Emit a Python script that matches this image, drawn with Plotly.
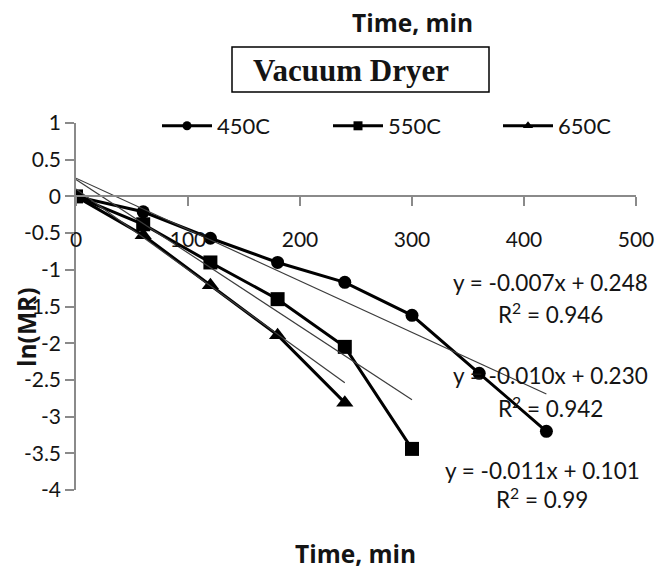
import plotly.graph_objects as go

# Drying data: ln(MR) versus time for three temperatures
time_450 = [0, 60, 120, 180, 240, 300, 360, 420]
lnmr_450 = [0.0, -0.21, -0.57, -0.90, -1.17, -1.62, -2.41, -3.20]

time_550 = [0, 60, 120, 180, 240, 300]
lnmr_550 = [0.0, -0.38, -0.90, -1.40, -2.05, -3.44]

time_650 = [0, 60, 120, 180, 240]
lnmr_650 = [0.0, -0.53, -1.21, -1.89, -2.81]

series_names = ["450C", "550C", "650C"]
series_symbols = ["circle", "square", "triangle-up"]

# Linear trendline coefficients (slope, intercept, R^2)
trend_slope = [-0.007, -0.010, -0.011]
trend_intercept = [0.248, 0.230, 0.101]
trend_r2 = ["0.946", "0.942", "0.99"]

x_tick_vals = [0, 100, 200, 300, 400, 500]
x_tick_text = ["0", "100", "200", "300", "400", "500"]
y_tick_vals = [1, 0.5, 0, -0.5, -1, -1.5, -2, -2.5, -3, -3.5, -4]
y_tick_text = ["1", "0.5", "0", "-0.5", "-1", "-1.5", "-2", "-2.5", "-3", "-3.5", "-4"]

W, H = 672, 569
L, R, T, B = 76, 36, 123, 79
PW, PH = W - L - R, H - T - B


def px(x):
    return (x - L) / PW


def py(y):
    return (H - B - y) / PH


SANS = "Lato, 'Open Sans', sans-serif"
TITLE = "'Open Sans', Lato, sans-serif"
SERIF = "'Liberation Serif', 'DejaVu Serif', serif"
TXT = "#141414"
AXIS = "#8a8a8a"

fig = go.Figure()

xs = [time_450, time_550, time_650]
ys = [lnmr_450, lnmr_550, lnmr_650]
sizes = [13, 14, 15]

for t, v, sym, sz in zip(xs, ys, series_symbols, sizes):
    fig.add_trace(go.Scatter(
        x=t, y=v, mode="lines+markers", showlegend=False,
        line=dict(color="black", width=3),
        marker=dict(symbol=sym, size=sz, color="black"),
    ))

# Trendlines from the fitted equations
for t, m, c in zip(xs, trend_slope, trend_intercept):
    x_end = [t[0], t[-1]]
    fig.add_trace(go.Scatter(
        x=x_end, y=[m * xx + c for xx in x_end], mode="lines",
        showlegend=False, line=dict(color="#3c3c3c", width=1.2),
    ))

# One legend per series, laid out in a row above the plot
legend_ids = ["legend", "legend2", "legend3"]
legend_x = [157, 328, 498]
legend_font = dict(family=SANS, size=22, color=TXT)
legend_layout = {}
for name, sym, lid, lx in zip(series_names, series_symbols, legend_ids, legend_x):
    fig.add_trace(go.Scatter(
        x=[None], y=[None], mode="lines+markers", name=name, legend=lid,
        line=dict(color="black", width=3),
        marker=dict(symbol=sym, size=9, color="black"),
    ))
    legend_layout[lid] = dict(
        x=px(lx), y=py(126), xanchor="left", yanchor="middle",
        itemwidth=50, font=legend_font, bgcolor="rgba(0,0,0,0)",
    )


def label(x, y, text, font, **kw):
    d = dict(x=px(x), y=py(y), xref="paper", yref="paper", showarrow=False,
             xanchor="center", yanchor="middle", text=text, font=font)
    d.update(kw)
    return d


eq_font = dict(family=SANS, size=22.5, color=TXT)
eq_pos = [(550, 282, 313), (550, 375, 407), (542, 470, 498)]
annotations = []
for (cx, ye, yr), m, c, r2 in zip(eq_pos, trend_slope, trend_intercept, trend_r2):
    annotations.append(label(cx, ye, f"y = {m:.3f}x + {c:.3f}", eq_font))
    annotations.append(label(cx, yr, f"R<sup>2</sup> = {r2}", eq_font))

title_font = dict(family=TITLE, size=24.5, color=TXT)
annotations += [
    label(412, 22, "<b>Time, min</b>", title_font),
    label(355, 553, "<b>Time, min</b>", title_font),
    label(26, 328, "<b>ln(MR)</b>", title_font, textangle=-90),
    label(251, 70, "<b>Vacuum Dryer</b>", dict(family=SERIF, size=31, color=TXT),
          xanchor="left"),
]

fig.update_layout(
    width=W, height=H,
    margin=dict(l=L, r=R, t=T, b=B, pad=0),
    paper_bgcolor="white", plot_bgcolor="white",
    annotations=annotations,
    shapes=[dict(type="rect", xref="paper", yref="paper",
                 x0=px(232), x1=px(489), y0=py(92), y1=py(47),
                 line=dict(color="black", width=1.5))],
    xaxis=dict(range=[0, 500], tickvals=x_tick_vals, ticktext=x_tick_text,
               anchor="free", position=0.8, showline=True, linecolor=AXIS, linewidth=1.5,
               ticks="outside", ticklen=9, tickcolor=AXIS, tickwidth=1.5,
               ticklabelstandoff=16, showgrid=False, zeroline=False,
               tickfont=dict(family=SANS, size=21, color=TXT)),
    yaxis=dict(range=[-4, 1], tickvals=y_tick_vals, ticktext=y_tick_text,
               showline=True, linecolor=AXIS, linewidth=1.5,
               ticks="outside", ticklen=9, tickcolor=AXIS, tickwidth=1.5,
               showgrid=False, zeroline=False,
               tickfont=dict(family=SANS, size=21, color=TXT)),
    **legend_layout,
)

fig.write_html("out.html")
